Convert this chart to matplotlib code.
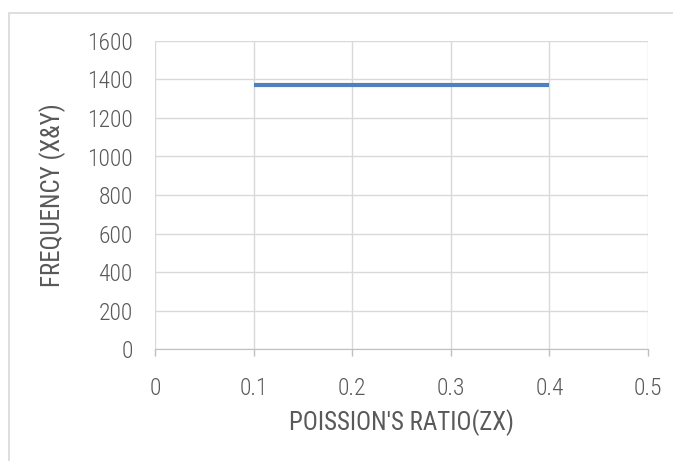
import matplotlib
matplotlib.use("Agg")
import matplotlib.pyplot as plt
from matplotlib.patches import Rectangle

# data
poisson_zx = [0.1, 0.2, 0.3, 0.4]
frequency = [1373, 1373, 1373, 1373]

plt.rcParams['font.family'] = ['Roboto Condensed', 'Archivo Narrow', 'DejaVu Sans']
plt.rcParams['font.weight'] = 'light'

fig = plt.figure(figsize=(6.73, 4.61), dpi=100)
# outer chart frame
fig.patches.append(Rectangle((9 / 673, -0.1), 1.2, 1 - 13 / 461 + 0.1,
                             transform=fig.transFigure, fill=False,
                             edgecolor='#D9D9D9', linewidth=1.2))

ax = fig.add_axes([155 / 673, 1 - 349 / 461, 493 / 673, 308 / 461])
ax.plot(poisson_zx, frequency, color='#4F81BD', linewidth=3, solid_capstyle='butt')

ax.set_xlim(0, 0.5)
ax.set_ylim(0, 1600)
ax.set_xticks([0, 0.1, 0.2, 0.3, 0.4, 0.5])
ax.set_xticklabels(['0', '0.1', '0.2', '0.3', '0.4', '0.5'])
ax.set_yticks(range(0, 1601, 200))

ax.grid(True, color='#D9D9D9', linewidth=1)
ax.set_axisbelow(True)
for s in ['top', 'right', 'left']:
    ax.spines[s].set_visible(False)
ax.spines['bottom'].set_color('#BFBFBF')

ax.tick_params(axis='x', colors='#595959', labelsize=17, length=5, width=1,
               color='#BFBFBF', pad=15)
ax.tick_params(axis='y', colors='#595959', labelsize=17, length=0, pad=16)

ax.set_xlabel("POISSION'S RATIO(ZX)", fontsize=18, color='#595959', labelpad=7)
ax.set_ylabel("FREQUENCY (X&Y)", fontsize=18, color='#595959', labelpad=15)

fig.savefig('out.png', dpi=100)
